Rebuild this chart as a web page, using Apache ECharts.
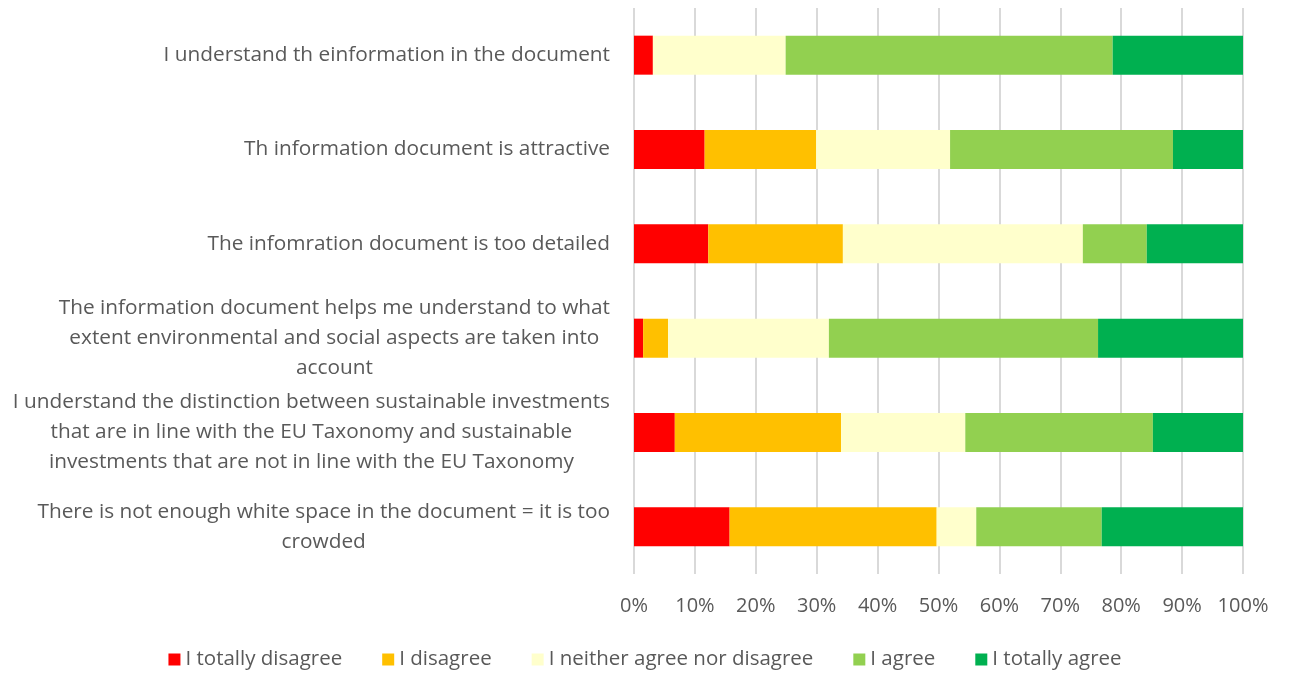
<!DOCTYPE html>
<html>
<head>
<meta charset="utf-8">
<style>
    html, body {margin: 0; padding: 0; background: #fff;}
    #chart {width: 1290px; height: 675px;}
</style>
<script src="https://cdn.jsdelivr.net/npm/echarts@6/dist/echarts.min.js"></script>
</head>
<body>
<div id="chart"></div>
<script>
const statements = [
    "I understand th einformation in the document",
    "Th information document is attractive",
    "The infomration document is too detailed",
    "The information document helps me understand to what\nextent environmental and social aspects are taken into\naccount",
    "I understand the distinction between sustainable investments\nthat are in line with the EU Taxonomy and sustainable\ninvestments that are not in line with the EU Taxonomy",
    "There is not enough white space in the document = it is too\ncrowded"
];
const answerNames = ["I totally disagree", "I disagree", "I neither agree nor disagree", "I agree", "I totally agree"];
const totallyDisagree = [3.1, 11.6, 12.2, 1.5, 6.7, 15.7];
const disagree = [0, 18.3, 22.1, 4.1, 27.3, 34.0];
const neither = [21.8, 22.0, 39.4, 26.4, 20.4, 6.5];
const agree = [53.7, 36.6, 10.5, 44.2, 30.8, 20.6];
const totallyAgree = [21.4, 11.5, 15.8, 23.8, 14.8, 23.2];
const colors = ["#ff0000", "#ffc000", "#ffffcc", "#92d050", "#00b050"];

const chart = echarts.init(document.getElementById("chart"));
const font = "'Open Sans', 'Liberation Sans', sans-serif";
const textColor = "#595959";

const seriesData = [totallyDisagree, disagree, neither, agree, totallyAgree];

chart.setOption({
    animation: false,
    color: colors,
    grid: {
        left: 634,
        right: 47,
        top: 8,
        bottom: 101
    },
    legend: {
        bottom: 0,
        left: "center",
        itemWidth: 12,
        itemHeight: 12,
        itemGap: 40,
        icon: "rect",
        textStyle: {
            color: textColor,
            fontSize: 20.5,
            fontFamily: font
        },
        data: answerNames
    },
    xAxis: {
        type: "value",
        min: 0,
        max: 100,
        interval: 10,
        axisLine: {show: false},
        axisTick: {show: false},
        axisLabel: {
            formatter: "{value}%",
            color: textColor,
            fontSize: 20,
            fontFamily: font,
            margin: 22
        },
        splitLine: {
            lineStyle: {color: "#d9d9d9", width: 2}
        }
    },
    yAxis: {
        type: "category",
        inverse: true,
        data: statements,
        axisLine: {show: false},
        axisTick: {show: false},
        axisLabel: {
            margin: 24,
            formatter: function (v) {
                return "{c|" + v + "}";
            },
            rich: {
                c: {
                    align: "center",
                    color: textColor,
                    fontSize: 20.8,
                    lineHeight: 30,
                    fontFamily: font
                }
            }
        }
    },
    series: answerNames.map(function (name, i) {
        return {
            name: name,
            type: "bar",
            stack: "total",
            barWidth: 39,
            data: seriesData[i]
        };
    })
});
</script>
</body>
</html>
